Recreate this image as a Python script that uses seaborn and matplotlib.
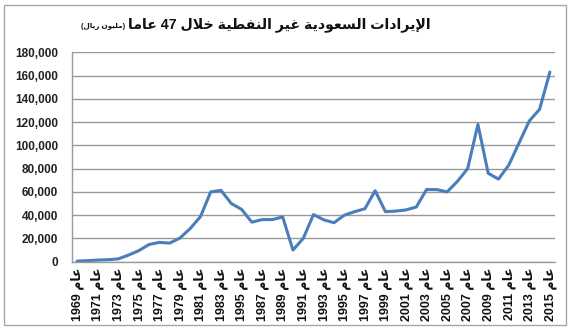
import re
import matplotlib
matplotlib.use("Agg")
import matplotlib.pyplot as plt
import seaborn as sns
import pandas as pd
from matplotlib.patches import Rectangle
from matplotlib.ticker import FuncFormatter

# ---------------- data ----------------
years = list(range(1969, 2016))
revenue = [500, 900, 1400, 1700, 2400, 5700, 9500, 14800, 16600, 16000,
           20300, 28500, 38700, 60000, 61300, 50000, 45000, 34000, 36200, 36200,
           38500, 10000, 20000, 40500, 36000, 33500, 40000, 43000, 45500, 61000,
           43000, 43500, 44500, 47000, 62000, 62000, 60000, 69000, 80000, 118000,
           76000, 71000, 83000, 102000, 121000, 131000, 163000]
tick_years = list(range(1969, 2016, 2))
tick_year_text = ["1969", "1971", "1973", "1975", "1977", "1979", "1981", "1983",
                  "1995", "1987", "1989", "1991", "1993", "1995", "1997", "1999",
                  "2001", "2003", "2005", "2007", "2009", "2011", "2013", "2015"]
year_word = "عام"
title_main = "الإيرادات السعودية غير النفطية خلال 47 عاما"
title_unit = "(مليون ريال)"
y_ticks = list(range(0, 180001, 20000))

# ------------- Arabic shaping (presentation forms, visual order) -------------
FORMS = {  # isolated, final, initial, medial
    "ا": (0xFE8D, 0xFE8E, None, None), "إ": (0xFE87, 0xFE88, None, None),
    "أ": (0xFE83, 0xFE84, None, None), "ب": (0xFE8F, 0xFE90, 0xFE91, 0xFE92),
    "ة": (0xFE93, 0xFE94, None, None), "ت": (0xFE95, 0xFE96, 0xFE97, 0xFE98),
    "خ": (0xFEA5, 0xFEA6, 0xFEA7, 0xFEA8), "د": (0xFEA9, 0xFEAA, None, None),
    "ر": (0xFEAD, 0xFEAE, None, None), "س": (0xFEB1, 0xFEB2, 0xFEB3, 0xFEB4),
    "ط": (0xFEC1, 0xFEC2, 0xFEC3, 0xFEC4), "ع": (0xFEC9, 0xFECA, 0xFECB, 0xFECC),
    "غ": (0xFECD, 0xFECE, 0xFECF, 0xFED0), "ف": (0xFED1, 0xFED2, 0xFED3, 0xFED4),
    "ل": (0xFEDD, 0xFEDE, 0xFEDF, 0xFEE0), "م": (0xFEE1, 0xFEE2, 0xFEE3, 0xFEE4),
    "ن": (0xFEE5, 0xFEE6, 0xFEE7, 0xFEE8), "و": (0xFEED, 0xFEEE, None, None),
    "ي": (0xFEF1, 0xFEF2, 0xFEF3, 0xFEF4),
}
LAMALEF = {"ا": (0xFEFB, 0xFEFC), "إ": (0xFEF9, 0xFEFA), "أ": (0xFEF7, 0xFEF8)}


def shape(s):
    units = []
    i = 0
    while i < len(s):
        c = s[i]
        if c == "ل" and i + 1 < len(s) and s[i + 1] in LAMALEF:
            units.append(("LA", s[i + 1]))
            i += 2
        else:
            units.append(("C", c))
            i += 1

    def is_ar(u):
        return u[0] == "LA" or u[1] in FORMS

    def dual(u):
        return u[0] == "C" and u[1] in FORMS and FORMS[u[1]][2] is not None

    out = []
    n = len(units)
    for j, u in enumerate(units):
        if not is_ar(u):
            out.append(u[1])
            continue
        pj = j > 0 and dual(units[j - 1])
        nj = j < n - 1 and dual(u) and is_ar(units[j + 1])
        if u[0] == "LA":
            out.append(chr(LAMALEF[u[1]][1 if pj else 0]))
            continue
        f = FORMS[u[1]]
        if pj and nj:
            out.append(chr(f[3]))
        elif pj:
            out.append(chr(f[1]))
        elif nj:
            out.append(chr(f[2]))
        else:
            out.append(chr(f[0]))
    return "".join(out)


def visual(s):
    r = shape(s)[::-1]
    r = r.translate(str.maketrans({"(": ")", ")": "("}))
    return re.sub(r"[0-9]+", lambda m: m.group(0)[::-1], r)


# ---------------- plot ----------------
sns.set_style("white")
fam = ["Liberation Sans", "DejaVu Sans"]
plt.rcParams["font.family"] = fam

fig = plt.figure(figsize=(5.7, 3.3), dpi=100)
ax = fig.add_axes([72 / 570, 1 - 261.7 / 330, (555 - 72) / 570, (261.7 - 52.3) / 330])

df = pd.DataFrame({"year": years, "revenue": revenue})
sns.lineplot(data=df, x="year", y="revenue", ax=ax, color="#4A7EBB",
             linewidth=2.2)

ax.set_xlim(1968.5, 2015.5)
ax.set_ylim(0, 180000)
ax.set_yticks(y_ticks)
ax.yaxis.set_major_formatter(FuncFormatter(lambda v, p: f"{int(v):,}"))
ax.set_xticks(tick_years)
ax.set_xticklabels([visual(year_word + " " + t) for t in tick_year_text],
                   rotation=90, fontsize=9, fontweight="bold", family=fam)
for lab in ax.get_yticklabels():
    lab.set_fontsize(8.5)
    lab.set_fontweight("bold")
    lab.set_color("#222222")
ax.tick_params(axis="x", length=0, pad=4, colors="#111111")
ax.tick_params(axis="y", length=0, pad=10)
ax.set_xlabel("")
ax.set_ylabel("")
ax.grid(axis="y", color="#9a9a9a", linewidth=1.0)
ax.set_axisbelow(True)
for side in ["top", "right"]:
    ax.spines[side].set_visible(False)
for side in ["left", "bottom"]:
    ax.spines[side].set_color("#9a9a9a")
    ax.spines[side].set_linewidth(1.0)

# title
t_main = fig.text(431 / 570, 1 - 25 / 330, visual(title_main), ha="right",
                  va="center", fontsize=10.2, fontweight="bold", family=fam,
                  color="#111111")
fig.canvas.draw()
bb = t_main.get_window_extent()
fig.text((bb.x0 - 3) / (5.7 * 100), 1 - 27 / 330, visual(title_unit), ha="right",
         va="center", fontsize=5.2, fontweight="bold", family=fam, color="#111111")

# chart-area border
fig.patches.append(Rectangle((4 / 570, 5 / 330), 562 / 570, 320 / 330,
                             transform=fig.transFigure, fill=False,
                             edgecolor="#a6a6a6", linewidth=1.0))

fig.savefig("out.png", dpi=100, facecolor="white")
